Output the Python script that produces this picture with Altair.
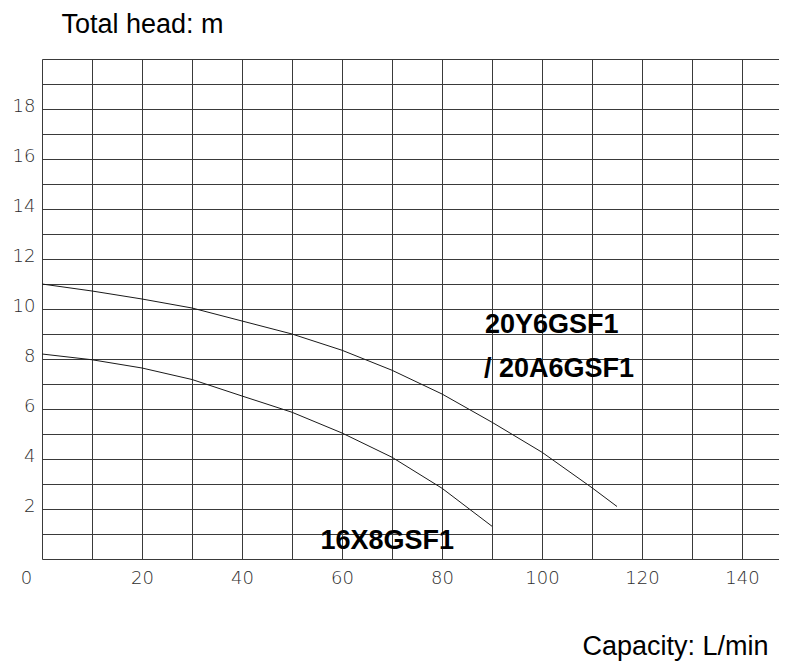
import altair as alt
import pandas as pd

# Pump performance curves (capacity L/min vs total head m)
flow_20y6 = [0, 10, 20, 30, 40, 50, 60, 70, 80, 90, 100, 110, 115]
head_20y6 = [11.0, 10.72, 10.4, 10.04, 9.52, 9.0, 8.35, 7.55, 6.6, 5.47, 4.27, 2.85, 2.1]

flow_16x8 = [0, 10, 20, 30, 40, 50, 60, 70, 80, 90]
head_16x8 = [8.2, 7.97, 7.64, 7.18, 6.52, 5.87, 5.04, 4.07, 2.83, 1.31]

label_texts = ["20Y6GSF1", "/ 20A6GSF1", "16X8GSF1"]
label_x = [88.6, 88.4, 55.7]
label_y = [9.04, 7.28, 0.4]

x_grid = list(range(0, 150, 10))
y_grid = list(range(0, 21, 1))

curves = pd.DataFrame({
    "flow": flow_20y6 + flow_16x8,
    "head": head_20y6 + head_16x8,
    "model": ["20Y6GSF1"] * len(flow_20y6) + ["16X8GSF1"] * len(flow_16x8),
})
labels = pd.DataFrame({"flow": label_x, "head": label_y, "txt": label_texts})

x_scale = alt.Scale(domain=[0, 147.4], nice=False, zero=False)
y_scale = alt.Scale(domain=[0, 20], nice=False, zero=False)

grid_col = "#3a3a3a"
lab_col = "#2e2e2e"

x_axis = alt.Axis(
    values=x_grid, grid=True, gridColor=grid_col, gridWidth=1, gridOpacity=1,
    domain=False, ticks=False, tickSize=0,
    labelExpr="datum.value % 20 == 0 ? datum.label : ''",
    labelFont="DejaVu Sans", labelFontSize=18, labelFontWeight=200, labelColor=lab_col,
    labelPadding=10, labelOverlap=False, labelFlush=False, labelBound=False,
    labelOffset={"condition": {"test": "datum.value == 0", "value": -16}, "value": 0},
    title="Capacity: L/min", titleFont="Liberation Sans", titleFontSize=27,
    titleFontWeight="normal", titleColor="#000000",
    titleX=726, titleY=95, titleAlign="right", titleBaseline="alphabetic",
)
y_axis = alt.Axis(
    values=y_grid, grid=True, gridColor=grid_col, gridWidth=1, gridOpacity=1,
    domain=False, ticks=False, tickSize=0,
    labelExpr="(datum.value % 2 == 0 && datum.value > 0 && datum.value < 20) ? datum.label : ''",
    labelFont="DejaVu Sans", labelFontSize=18, labelFontWeight=200, labelColor=lab_col,
    labelPadding=7, labelOverlap=False, labelFlush=False, labelBound=False, labelOffset=-3,
    title="Total head: m", titleFont="Liberation Sans", titleFontSize=27,
    titleFontWeight="normal", titleColor="#000000", titleAngle=0,
    titleX=19, titleY=-27, titleAlign="left", titleBaseline="alphabetic",
)

lines = alt.Chart(curves).mark_line(
    color="#1a1a1a", strokeWidth=1, interpolate="linear"
).encode(
    x=alt.X("flow:Q", scale=x_scale, axis=x_axis),
    y=alt.Y("head:Q", scale=y_scale, axis=y_axis),
    detail="model:N",
)

texts = alt.Chart(labels).mark_text(
    font="Liberation Sans", fontSize=27, fontWeight="bold",
    align="left", baseline="alphabetic", color="#000000"
).encode(
    x=alt.X("flow:Q", scale=x_scale, axis=x_axis),
    y=alt.Y("head:Q", scale=y_scale, axis=y_axis),
    text="txt:N",
)

chart = alt.layer(lines, texts).properties(
    width=737, height=500,
    padding={"left": 34, "top": 51, "right": 0, "bottom": 102},
    autosize="none",
).configure_view(stroke=None).configure(background="white")

chart.save("out.html", embed_options={"renderer": "svg", "actions": False})
